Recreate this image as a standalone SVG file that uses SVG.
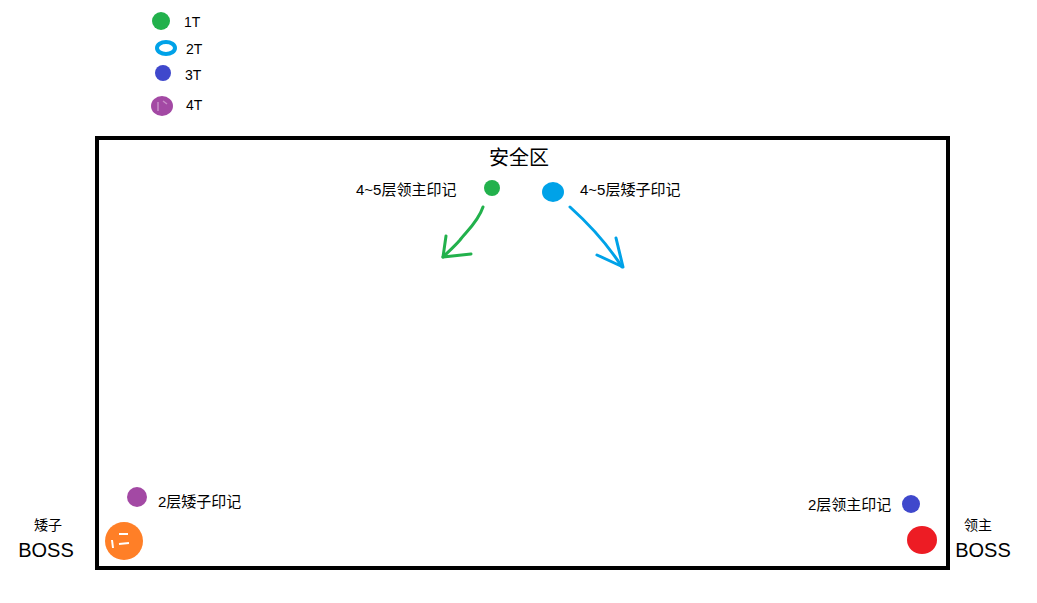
<svg xmlns="http://www.w3.org/2000/svg" width="1037" height="603" viewBox="0 0 1037 603">
<style>
text{font-family:"Liberation Sans","Noto Sans CJK SC",sans-serif;fill:#000}
.s{font-size:14px}
.c{font-size:15px}
.m{font-size:20px}
.arrow{fill:none;stroke-width:3;stroke-linecap:round;stroke-linejoin:round}
</style>
<rect width="1037" height="603" fill="#fff"/>
<g id="legend">
<circle cx="161" cy="21" r="9" fill="#22b14c"/>
<text class="s" x="184" y="27">1T</text>
<ellipse cx="166" cy="48" rx="9" ry="6" fill="none" stroke="#00a2e8" stroke-width="4"/>
<text class="s" x="186" y="54">2T</text>
<circle cx="163" cy="73" r="8" fill="#3f48cc"/>
<text class="s" x="185" y="80">3T</text>
<ellipse cx="162" cy="106" rx="11" ry="10" fill="#a349a4"/>
<path d="M158,102 L158,111 M163,101 L167,104" stroke="#c98fc9" stroke-width="1.5" fill="none"/>
<text class="s" x="186" y="110">4T</text>
</g>
<g id="zone">
<rect x="97" y="138" width="851" height="430" fill="none" stroke="#000" stroke-width="4"/>
<text class="m" x="519" y="165" text-anchor="middle">安全区</text>
</g>
<g id="lord-mark-45">
<circle cx="492" cy="188" r="8" fill="#22b14c"/>
<text class="c" x="356" y="195">4~5层领主印记</text>
</g>
<g id="dwarf-mark-45">
<ellipse cx="553" cy="192" rx="11" ry="10" fill="#00a2e8"/>
<text class="c" x="580" y="195">4~5层矮子印记</text>
</g>
<g id="dwarf-mark-2">
<circle cx="137" cy="497" r="10" fill="#a349a4"/>
<text class="c" x="158" y="507">2层矮子印记</text>
</g>
<g id="dwarf-boss">
<circle cx="124" cy="541" r="19" fill="#ff7f27"/>
<path d="M119,534 L128,534 M119,544 L129,543 M112,540 L113,548" stroke="#fff" stroke-width="2" fill="none"/>
<text class="s" x="48" y="530" text-anchor="middle">矮子</text>
<text class="m" x="46" y="557" text-anchor="middle">BOSS</text>
</g>
<g id="lord-mark-2">
<circle cx="911" cy="504" r="9" fill="#3f48cc"/>
<text class="c" x="808" y="510">2层领主印记</text>
</g>
<g id="lord-boss">
<ellipse cx="922" cy="540" rx="15" ry="14" fill="#ed1c24"/>
<text class="s" x="978" y="530" text-anchor="middle">领主</text>
<text class="m" x="983" y="557" text-anchor="middle">BOSS</text>
</g>
<g id="connectors">
<path class="arrow" stroke="#22b14c" d="M483,207 C478,222 466,232 460,240 C454,247 448,252 443,257"/>
<path class="arrow" stroke="#22b14c" d="M446,236 L443,257 L471,254"/>
<path class="arrow" stroke="#00a2e8" d="M570,207 C590,225 608,245 622,267"/>
<path class="arrow" stroke="#00a2e8" d="M616,238 L623,267 L597,255"/>
</g>
</svg>
